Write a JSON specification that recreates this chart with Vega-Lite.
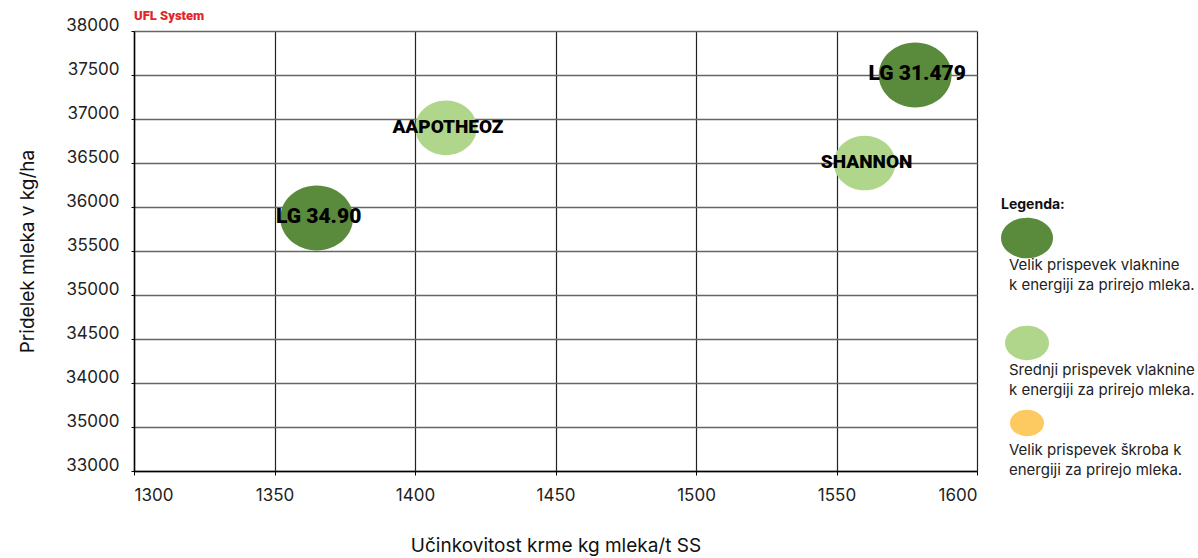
{
  "$schema": "https://vega.github.io/schema/vega-lite/v6.json",
  "width": 843,
  "height": 440,
  "autosize": "none",
  "padding": {"left": 134, "top": 31, "right": 221, "bottom": 87},
  "background": "white",
  "title": {
    "text": "UFL System",
    "anchor": "start",
    "frame": "group",
    "font": "Roboto",
    "fontSize": 13,
    "fontWeight": 900,
    "color": "#e3262c",
    "offset": -7
  },
  "config": {
    "view": {"stroke": null},
    "font": "Inter",
    "style": {"guide-label": {"lineHeight": 20}}
  },
  "data": {
    "values": [
      {"sorta": "LG 31.479", "ucinkovitost": 1578, "pridelek": 37500, "skupina": "Velik prispevek vlaknine k energiji za prirejo mleka."},
      {"sorta": "SHANNON", "ucinkovitost": 1560, "pridelek": 36500, "skupina": "Srednji prispevek vlaknine k energiji za prirejo mleka."},
      {"sorta": "AAPOTHEOZ", "ucinkovitost": 1411, "pridelek": 36900, "skupina": "Srednji prispevek vlaknine k energiji za prirejo mleka."},
      {"sorta": "LG 34.90", "ucinkovitost": 1365, "pridelek": 35875, "skupina": "Velik prispevek vlaknine k energiji za prirejo mleka."}
    ]
  },
  "encoding": {
    "x": {
      "field": "ucinkovitost",
      "type": "quantitative",
      "scale": {"domain": [1300, 1600], "nice": false, "zero": false},
      "axis": {
        "title": "Učinkovitost krme kg mleka/t SS",
        "values": [1300, 1350, 1400, 1450, 1500, 1550, 1600],
        "format": "d",
        "grid": true,
        "gridColor": "#222",
        "gridWidth": 1.2,
        "domainColor": "#000",
        "domainWidth": 1.5,
        "tickColor": "#000",
        "tickSize": 4,
        "labelFont": "Inter",
        "labelFontSize": 17,
        "labelColor": "#222",
        "labelPadding": 12,
        "titleFont": "Inter",
        "titleFontSize": 19,
        "titleFontWeight": "normal",
        "titleColor": "#111",
        "titlePadding": 33
      }
    },
    "y": {
      "field": "pridelek",
      "type": "quantitative",
      "scale": {"domain": [33000, 38000], "nice": false, "zero": false},
      "axis": {
        "title": "Pridelek mleka v kg/ha",
        "values": [33000, 33500, 34000, 34500, 35000, 35500, 36000, 36500, 37000, 37500, 38000],
        "labelExpr": "datum.value == 33500 ? '35000' : format(datum.value, 'd')",
        "grid": true,
        "gridColor": "#666",
        "gridWidth": 1.5,
        "domainColor": "#000",
        "domainWidth": 1.5,
        "tickColor": "#000",
        "tickSize": 3,
        "labelFont": "Inter",
        "labelFontSize": 17,
        "labelColor": "#222",
        "labelPadding": 12,
        "labelOffset": -6,
        "titleFont": "Inter",
        "titleFontSize": 19,
        "titleFontWeight": "normal",
        "titleColor": "#111",
        "titlePadding": 28
      }
    }
  },
  "layer": [
    {
      "mark": {"type": "point", "filled": true, "opacity": 1, "strokeWidth": 0, "shape": "M-1.4,0A1.4,1.246,0,1,0,1.4,0A1.4,1.246,0,1,0,-1.4,0Z"},
      "encoding": {
        "color": {
          "field": "skupina",
          "type": "nominal",
          "scale": {
            "domain": [
              "Velik prispevek vlaknine k energiji za prirejo mleka.",
              "Srednji prispevek vlaknine k energiji za prirejo mleka.",
              "Velik prispevek škroba k energiji za prirejo mleka."
            ],
            "range": ["#5a8a3c", "#afd68a", "#fdca62"]
          },
          "legend": {
            "orient": "none",
            "legendX": 867,
            "legendY": 167,
            "padding": 0,
            "title": "Legenda:",
            "titleFont": "Inter",
            "titleFontSize": 14,
            "titleFontWeight": "bold",
            "titleColor": "#111",
            "titlePadding": 0,
            "symbolType": "M-1,0A1,0.78,0,1,0,1,0A1,0.78,0,1,0,-1,0Z",
            "symbolStrokeWidth": 0,
            "labelFont": "Inter",
            "labelFontSize": 15,
            "labelColor": "#222",
            "labelLimit": 0,
            "labelBaseline": "top",
            "labelOffset": -44,
            "rowPadding": 8,
            "labelExpr": "datum.index == 0 ? ['', '', 'Velik prispevek vlaknine', 'k energiji za prirejo mleka.'] : datum.index == 1 ? ['', 'Srednji prispevek vlaknine', 'k energiji za prirejo mleka.'] : ['', 'Velik prispevek škroba k', 'energiji za prirejo mleka.']"
          }
        },
        "size": {
          "field": "skupina",
          "type": "nominal",
          "scale": {
            "domain": [
              "Velik prispevek vlaknine k energiji za prirejo mleka.",
              "Srednji prispevek vlaknine k energiji za prirejo mleka.",
              "Velik prispevek škroba k energiji za prirejo mleka."
            ],
            "range": [2704, 1156]
          },
          "legend": null
        }
      }
    },
    {
      "mark": {"type": "text", "font": "Roboto", "fontWeight": 900, "color": "#000", "align": "center", "baseline": "middle", "dx": 2, "dy": -1},
      "encoding": {
        "text": {"field": "sorta"},
        "size": {
          "condition": {"test": "datum.sorta == 'LG 31.479' || datum.sorta == 'LG 34.90'", "value": 21},
          "value": 19
        }
      }
    }
  ]
}
